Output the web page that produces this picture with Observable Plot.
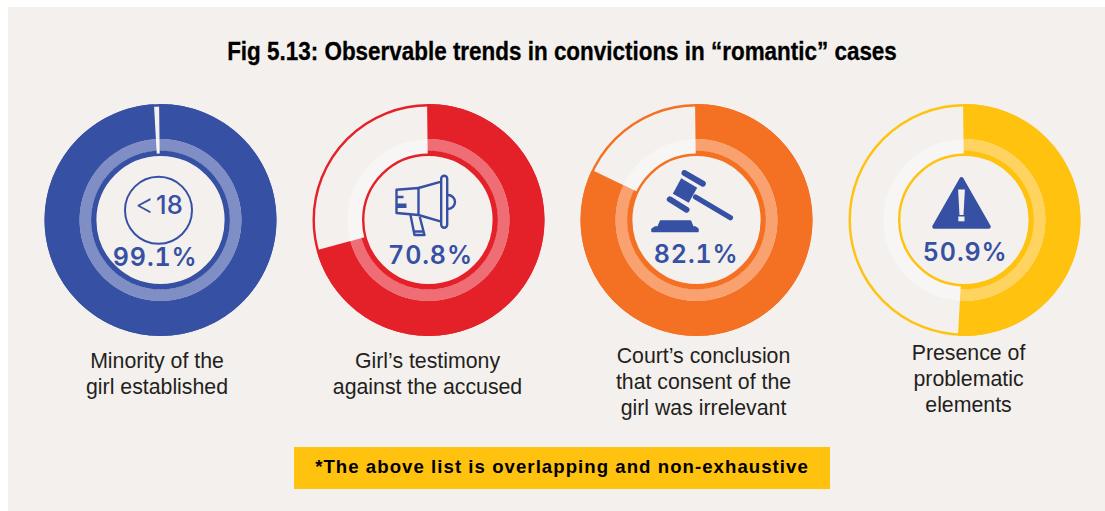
<!DOCTYPE html>
<html>
<head>
<meta charset="utf-8">
<script src="https://cdn.jsdelivr.net/npm/d3@7"></script>
<script src="https://cdn.jsdelivr.net/npm/@observablehq/plot@0.6"></script>
<style>
  html, body { margin: 0; padding: 0; background: #fff; width: 1105px; height: 511px; overflow: hidden; }
  #panel { position: absolute; left: 8px; top: 7px; width: 1097px; height: 504px; background: #f4f0ed; }
  #title { position: absolute; left: 0; top: 33px; width: 1124px; text-align: center; color: #000;
           font: 700 25.5px "Liberation Sans", sans-serif; line-height: 36px; white-space: nowrap;
           transform: scaleX(0.88); -webkit-text-stroke: 0.3px #000; }
  #chart { position: absolute; left: 0; top: 88px; }
  #note { position: absolute; left: 294px; top: 447px; width: 536px; height: 42px; background: #fec20f; color: #000;
          font: 700 18.6px "Liberation Sans", sans-serif; letter-spacing: 1.05px; line-height: 39px; text-align: center; white-space: nowrap; }
  svg g[font-size="25"] { letter-spacing: 0.9px; font-variant-numeric: tabular-nums; }
  svg g[font-size="25.5"] { letter-spacing: 0.2px; }
</style>
</head>
<body>
<div id="panel"></div>
<div id="title">Fig 5.13: Observable trends in convictions in “romantic” cases</div>
<div id="chart"></div>
<div id="note">*The above list is overlapping and non-exhaustive</div>
<script>
// ---- data -------------------------------------------------------------
const categories = ["Minority", "Testimony", "Consent", "Problematic"];
const shares = [99.1, 70.8, 82.1, 50.9];
const valueLabels = ["99.1%", "70.8%", "82.1%", "50.9%"];
const captions = [
  "Minority of the\ngirl established",
  "Girl’s testimony\nagainst the accused",
  "Court’s conclusion\nthat consent of the\ngirl was irrelevant",
  "Presence of\nproblematic\nelements"
];
// ---- styling ----------------------------------------------------------
const strongColors = ["#3650a4", "#e42129", "#f47023", "#fec20f"];
const lightColors  = ["#7f8ec5", "#ef6d74", "#f9a26f", "#ffd35f"];
const ink = "#3650a4";
const paper = "#f4f0ed";
const hollow = "#f7f6f4";
// ---- layout, in pixels relative to each donut's centre ------------------
const valueDx = [-5.3, 2, -0.3, 0.7];
const valueBaseline = [45.7, 44, 42.7, 41];
const captionDx = [-3.5, -1, 7, 4];
const captionBaseline = [144.5, 144.5, 139.5, 136.5];
const captionSize = 21.3;
const startAngle = -0.7;

const svgUri = body => "data:image/svg+xml," + encodeURIComponent(
  `<svg xmlns="http://www.w3.org/2000/svg" width="100" height="100" viewBox="-50 -50 100 100">${body}</svg>`);
const icons = {
  Testimony: svgUri(`<g fill="none" stroke="${ink}" stroke-width="2.4" stroke-linejoin="round">
    <path d="M-32 -30.3L-10 -32V-5L-32 -7Z"/><path d="M-10 -32L12.7 -38.3M-10 -5L12.7 1.7"/>
    <rect x="12.7" y="-44.3" width="6" height="52" rx="3"/><path d="M19.5 -25A7 7 0 0 1 19.5 -11"/>
    <path d="M-18 -5L-14 15H-4L-8.7 -3"/><path d="M-14.8 11.5H-5"/><path d="M-32 -23H-25"/></g>
    <rect x="-32" y="-16.5" width="10" height="4.5" fill="${ink}"/>`),
  Consent: svgUri(`<g fill="${ink}" stroke="${ink}" stroke-linecap="round" stroke-linejoin="round">
    <path stroke="none" d="M-15.3 -41.7L0.7 -32.3L-7.7 -17.3L-23.7 -26.3Z"/>
    <path fill="none" stroke-width="6" d="M-12 -47L6.3 -36.3"/>
    <path fill="none" stroke-width="6" d="M-26.7 -20.7L-10 -10.3"/>
    <path fill="none" stroke-width="5.2" d="M-1 -23L34 -2.3"/>
    <path stroke-width="1.5" d="M-44.5 11.5V9L-41.5 7H-38.5L-36 1H-6L-3.5 7H-1L1.5 9V11.5Z"/></g>`),
  Problematic: svgUri(`<path fill="${ink}" stroke="${ink}" stroke-width="4" stroke-linejoin="round" d="M-3 -41L-30.3 6.7H24.3Z"/>
    <path fill="${paper}" d="M-6.4 -30.5H0.4L-1 -5H-5Z"/><rect x="-6.2" y="-3.5" width="6.2" height="4.8" fill="${paper}"/>`)
};

const panels = categories.map((category, i) => ({
  category, share: shares[i], strong: strongColors[i], light: lightColors[i],
  valueLabel: valueLabels[i], caption: captions[i],
  valueDx: valueDx[i], valueBaseline: valueBaseline[i],
  captionDx: captionDx[i], captionBaseline: captionBaseline[i]
}));

// A sector is a closed outline derived from the share of its panel.
function sector(p, r0, r1, color) {
  const end = p.share * 3.6;
  const n = Math.ceil(end - startAngle);
  const rad = k => (startAngle + (end - startAngle) * k / n) * Math.PI / 180;
  const rows = [];
  for (let k = 0; k <= n; k++) rows.push({r: r1, a: rad(k)});
  for (let k = n; k >= 0; k--) rows.push({r: r0, a: rad(k)});
  return rows.map(({r, a}) => ({
    category: p.category, z: p.category + r1, color,
    x: r * Math.sin(a), y: -r * Math.cos(a)
  }));
}
const sectors = panels.flatMap(p => [
  ...sector(p, 80.8, 115.9, p.strong),
  ...sector(p, 69.2, 81, p.light),
  ...sector(p, 65, 69.4, p.strong)
]);

const fx = d => d.category;
const origin = () => 0;

const plot = Plot.plot({
  width: 1105, height: 350,
  marginLeft: 26, marginRight: 7, marginTop: 0, marginBottom: 0,
  style: {background: "transparent"},
  fx: {domain: categories, axis: null, padding: 0},
  x: {domain: [-134, 134], axis: null},
  y: {domain: [-131.5, 218.5], range: [0, 350], axis: null},
  color: {type: "identity"},
  marks: [
    Plot.dot(panels, {fx, x: origin, y: origin, r: 114.8, fill: "none", stroke: "strong", strokeWidth: 2.4}),
    Plot.dot(panels, {fx, x: origin, y: origin, r: 73, fill: "none", stroke: hollow, strokeWidth: 16}),
    Plot.line(sectors, {fx: "category", x: "x", y: "y", z: "z", fill: "color", stroke: "none", curve: "linear"}),
    Plot.dot(panels, {fx, x: origin, y: origin, r: 65.3, fill: "none", stroke: "strong", strokeWidth: 2.4}),
    Plot.dot(panels.slice(0, 1), {fx, x: () => -2, y: () => -9.7, r: 33.5, fill: "none", stroke: ink, strokeWidth: 2}),
    Plot.text(panels.slice(0, 1), {fx, x: () => -16, y: () => -6, text: () => "<", lineAnchor: "bottom",
      fill: ink, fontFamily: "Inter", fontSize: 29, fontWeight: 300}),
    Plot.text(panels.slice(0, 1), {fx, x: () => 9, y: () => -6, text: () => "18", lineAnchor: "bottom",
      fill: ink, fontFamily: "Inter", fontSize: 25.5, fontWeight: 500}),
    Plot.image(panels.slice(1), {fx, x: origin, y: origin, width: 100, height: 100, src: d => icons[d.category]}),
    Plot.text(panels, {fx, x: d => d.valueDx, y: d => d.valueBaseline, text: "valueLabel", lineAnchor: "bottom",
      fill: ink, fontFamily: "Inter", fontSize: 25, fontWeight: 600}),
    Plot.text(panels, {fx, x: d => d.captionDx, y: d => d.captionBaseline - 0.71 * captionSize, text: "caption", lineAnchor: "top",
      lineHeight: 1.22, fill: "#231f20", fontFamily: "Liberation Sans", fontSize: captionSize, fontWeight: 400})
  ]
});
document.getElementById("chart").append(plot);
</script>
</body>
</html>
